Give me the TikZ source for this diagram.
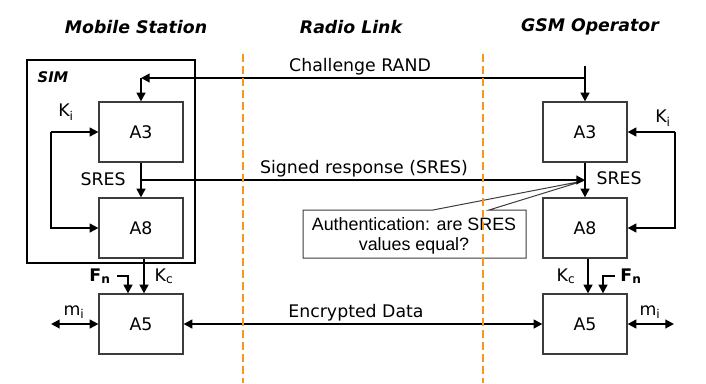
\documentclass[tikz,border=0pt]{standalone}
\usepackage{fontspec}
\setmainfont{DejaVu Sans}
\newfontfamily\notefont{Liberation Sans}
\usetikzlibrary{arrows.meta}
\definecolor{linkorange}{RGB}{247,150,30}
\definecolor{boxgray}{RGB}{60,60,60}

\begin{document}
\begin{tikzpicture}[x=0.75pt,y=-0.75pt,
  font=\fontsize{13}{15}\selectfont,
  algo/.style={draw=boxgray,line width=0.9pt,minimum width=63pt,minimum height=45pt},
  wire/.style={line width=1.5pt,-{Triangle[length=6.5pt,width=6.5pt]}},
  duplex/.style={line width=1.5pt,{Triangle[length=6.5pt,width=6.5pt]}-{Triangle[length=6.5pt,width=6.5pt]}},
  head/.style={font=\fontsize{13}{15}\bfseries\itshape\selectfont},
  zone/.style={draw=linkorange,line width=1.5pt,dash pattern=on 6pt off 3pt}]
\useasboundingbox (0,0) rectangle (706,383);
% column headings
\node[head] (ms) at (136,27) {Mobile Station};
\node[head] (rl) at (351,27) {Radio Link};
\node[head] (op) at (590,27) {GSM Operator};
% SIM card
\draw[line width=1.5pt] (27,60) rectangle (195,263);
\node[head,font=\fontsize{11}{13}\bfseries\itshape\selectfont,anchor=west] (sim) at (33,77) {SIM};
% draws boxes
\node[algo] (a3ms) at (141,132) {A3};
\node[algo] (a8ms) at (141,228) {A8};
\node[algo] (a5ms) at (141,324) {A5};
\node[algo] (a3op) at (585,132) {A3};
\node[algo] (a8op) at (585,228) {A8};
\node[algo] (a5op) at (585,324) {A5};
% free ends
\coordinate (randsrc) at (585,66);
\coordinate (randms) at (141,78);
\coordinate (sresms) at (141,180);
\coordinate (sresop) at (585,180);
\coordinate (kims) at (51,132);
\coordinate (kiop) at (675,132);
\coordinate (fnms) at (117,276);
\coordinate (fnop) at (615,276);
\coordinate (mims) at (51,324);
\coordinate (miop) at (674,324);
% labels
\node[anchor=base] (rand) at (360,71) {Challenge RAND};
\node[anchor=base] (sres) at (364,173) {Signed response (SRES)};
\node[anchor=base] (enc) at (356,317) {Encrypted Data};
\node[anchor=base] (sresl) at (103,185) {SRES};
\node[anchor=base] (sresr) at (619,184) {SRES};
\node (kil) at (66,112) {K\textsubscript{i}};
\node (kir) at (663,118) {K\textsubscript{i}};
\node (kcl) at (164,276) {K\textsubscript{c}};
\node (kcr) at (566,276) {K\textsubscript{c}};
\node (fnl) at (100,276) {\textbf{F\textsubscript{n}}};
\node (fnr) at (631,276) {\textbf{F\textsubscript{n}}};
\node (mil) at (74,312) {m\textsubscript{i}};
\node (mir) at (650,312) {m\textsubscript{i}};
% comparison note
\draw[boxgray,line width=0.75pt] (303,210) -- (433,210) -- (583,181) -- (489,210) -- (526,210)
  -- (526,258) -- (303,258) -- cycle;
\node[font=\fontsize{13.4}{15}\notefont,align=center] (note) at (414,236)
  {Authentication: are SRES\\values equal?};
% draws arrows
\begin{scope}
\draw[wire] (randsrc) -- (a3op);
\draw[wire] (randsrc |- randms) -- (randms);
\draw[wire] (randms) -- (a3ms);
\draw[wire] (a3ms) -- (a8ms);
\draw[wire] (a3op) -- (a8op);
\draw[wire] (sresms) -- (sresop);
\draw[wire] (kims) -- (a3ms);
\draw[wire] (kims) |- (a8ms);
\draw[wire] (kiop) -- (a3op);
\draw[wire] (kiop) |- (a8op);
\draw[wire] ([xshift=2.25pt]a8ms.south) -- ([xshift=2.25pt]a5ms.north);
\draw[wire] ([xshift=2.25pt]a8op.south) -- ([xshift=2.25pt]a5op.north);
\draw[wire] (fnms) -| ([xshift=-9.75pt]a5ms.north);
\draw[wire] (fnop) -| ([xshift=13.5pt]a5op.north);
\draw[duplex] (mims) -- (a5ms);
\draw[duplex] (a5op) -- (miop);
\draw[duplex] (a5ms) -- (a5op);
\end{scope}
% radio link borders
\draw[zone] (243,54) -- (243,383);
\draw[zone] (483,54) -- (483,383);
\end{tikzpicture}
\end{document}
